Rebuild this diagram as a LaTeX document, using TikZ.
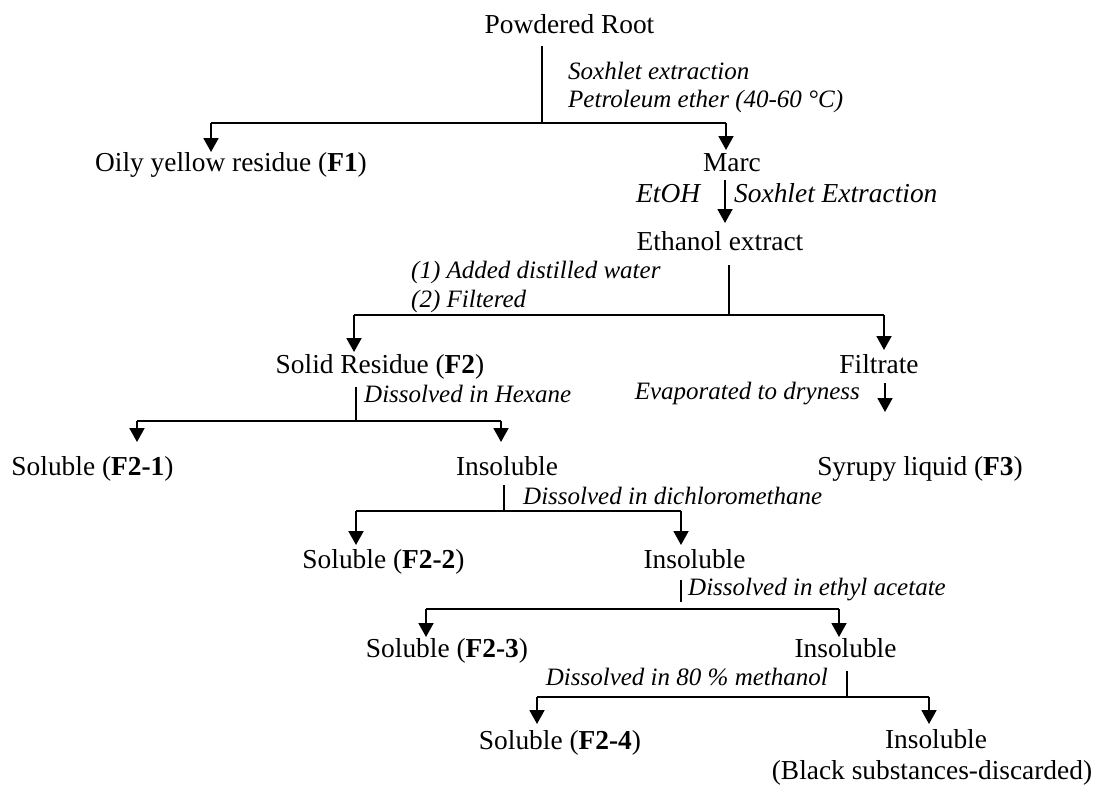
\documentclass[tikz,border=0pt]{standalone}
\usepackage{fontspec}
\setmainfont{Liberation Serif}
\usetikzlibrary{arrows.meta}
\tikzset{
  txt/.style={inner sep=0pt, anchor=base, font=\fontsize{27.4}{31}\selectfont},
  lbl/.style={inner sep=0pt, anchor=base west, font=\fontsize{25}{28}\selectfont\itshape},
  lblbig/.style={inner sep=0pt, anchor=base west, font=\fontsize{27.4}{31}\selectfont\itshape},
  link/.style={line width=1.9pt},
  arr/.style={line width=1.9pt, -{Triangle[width=15pt,length=14pt]}}
}
\begin{document}
\begin{tikzpicture}[x=1pt,y=-1pt]
\useasboundingbox (0,0) rectangle (1096,785);
% ---------- nodes ----------
\node[txt] (root) at (569.5,33) {Powdered Root};
\node[txt] (f1)   at (231,171) {Oily yellow residue (\textbf{F1})};
\node[txt] (marc) at (732,171) {Marc};
\node[txt] (eth)  at (720,250) {Ethanol extract};
\node[txt] (f2)   at (380,373) {Solid Residue (\textbf{F2})};
\node[txt] (filt) at (879,373) {Filtrate};
\node[txt] (f21)  at (92.5,475) {Soluble (\textbf{F2-1})};
\node[txt] (ins1) at (507,475) {Insoluble};
\node[txt] (f3)   at (920,475) {Syrupy liquid (\textbf{F3})};
\node[txt] (f22)  at (383.5,568) {Soluble (\textbf{F2-2})};
\node[txt] (ins2) at (694.5,568) {Insoluble};
\node[txt] (f23)  at (447,657) {Soluble (\textbf{F2-3})};
\node[txt] (ins3) at (845.5,657) {Insoluble};
\node[txt] (f24)  at (560,749) {Soluble (\textbf{F2-4})};
\node[txt] (ins4) at (936,748) {Insoluble};
\node[txt] (blk)  at (932,779) {(Black substances-discarded)};
% ---------- labels ----------
\node[lbl] (l1a) at (568,79) {Soxhlet extraction};
\node[lbl] (l1b) at (568,107) {Petroleum ether (40-60 °C)};
\node[lblbig] (l2a) at (636,202) {EtOH};
\node[lblbig] (l2b) at (734,202) {Soxhlet Extraction};
\node[lbl] (l3a) at (411,278) {(1) Added distilled water};
\node[lbl] (l3b) at (411,307) {(2) Filtered};
\node[lbl] (l4)  at (364,402) {Dissolved in Hexane};
\node[lbl, anchor=base east] (l5) at (860,399) {Evaporated to dryness};
\node[lbl] (l6)  at (523,504) {Dissolved in dichloromethane};
\node[lbl] (l7)  at (688,595) {Dissolved in ethyl acetate};
\node[lbl, anchor=base east] (l8) at (828,685) {Dissolved in 80 \% methanol};
% ---------- junction coordinates ----------
\coordinate (r0) at (542,46);   \coordinate (r1) at (542,123);
\coordinate (r2) at (211,123);  \coordinate (r3) at (726,123);
\coordinate (t-f1) at (211,152); \coordinate (t-marc) at (726,150);
\coordinate (m0) at (725,180);  \coordinate (t-eth) at (725,223);
\coordinate (e0) at (729,265);  \coordinate (e1) at (729,315);
\coordinate (e2) at (354,315);  \coordinate (e3) at (884,315);
\coordinate (t-f2) at (354,352); \coordinate (t-filt) at (884,350);
\coordinate (s0) at (356,387);  \coordinate (s1) at (356,421);
\coordinate (s2) at (137,421);  \coordinate (s3) at (501,421);
\coordinate (t-f21) at (137,442); \coordinate (t-ins1) at (501,442);
\coordinate (p0) at (885,383);  \coordinate (t-f3) at (885,412);
\coordinate (a0) at (504,485);  \coordinate (a1) at (504,511);
\coordinate (a2) at (356,511);  \coordinate (a3) at (681,511);
\coordinate (t-f22) at (356,545); \coordinate (t-ins2) at (681,545);
\coordinate (b0) at (681,580);  \coordinate (b1) at (681,602);
\coordinate (b2) at (426,609);  \coordinate (b3) at (839,609);
\coordinate (t-f23) at (426,637); \coordinate (t-ins3) at (839,637);
\coordinate (c0) at (847,671);  \coordinate (c1) at (847,697);
\coordinate (c2) at (537,697);  \coordinate (c3) at (929,697);
\coordinate (t-f24) at (537,724); \coordinate (t-ins4) at (929,724);
% ---------- connectors ----------
\draw[link] (r0) -- (r1);
\draw[link] (r2) -- (r3);
\draw[arr] (r2) -- (t-f1);
\draw[arr] (r3) -- (t-marc);
\draw[arr] (m0) -- (t-eth);
\draw[link] (e0) -- (e1);
\draw[link] (e2) -- (e3);
\draw[arr] (e2) -- (t-f2);
\draw[arr] (e3) -- (t-filt);
\draw[link] (s0) -- (s1);
\draw[link] (s2) -- (s3);
\draw[arr] (s2) -- (t-f21);
\draw[arr] (s3) -- (t-ins1);
\draw[arr] (p0) -- (t-f3);
\draw[link] (a0) -- (a1);
\draw[link] (a2) -- (a3);
\draw[arr] (a2) -- (t-f22);
\draw[arr] (a3) -- (t-ins2);
\draw[link] (b0) -- (b1);
\draw[link] (b2) -- (b3);
\draw[arr] (b2) -- (t-f23);
\draw[arr] (b3) -- (t-ins3);
\draw[link] (c0) -- (c1);
\draw[link] (c2) -- (c3);
\draw[arr] (c2) -- (t-f24);
\draw[arr] (c3) -- (t-ins4);
\end{tikzpicture}
\end{document}
